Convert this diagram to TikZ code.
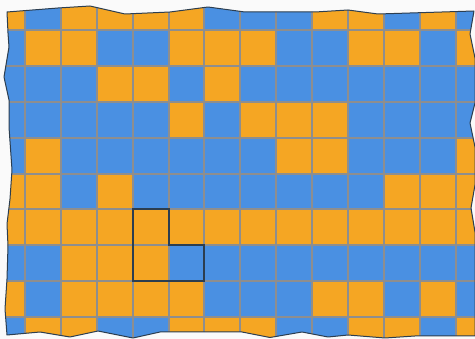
\documentclass[tikz,border=0pt]{standalone}
\usepackage{tikz}
\definecolor{naranja}{HTML}{F5A623}
\definecolor{azul}{HTML}{4A90E2}
\definecolor{rejilla}{HTML}{8E8E8E}
\definecolor{borde}{HTML}{2C3E50}
\definecolor{fondo}{HTML}{FAFAFA}
\colorlet{N}{naranja}
\colorlet{A}{azul}
\tikzset{
  lineagrid/.style={draw=rejilla,line width=2pt},
  contorno/.style={draw=borde,line width=1pt,line join=round},
  pieza/.style={draw=borde,line width=2pt,line join=miter},
}
\newcommand{\lado}{35.88}
\newcommand{\recorte}{(7,12) -- (58,8) -- (90,6) -- (125,14) -- (170,12) -- (208,7) -- (245,12) -- (315,12) -- (348,10) -- (378,14) -- (474,11)
  -- (470,34) -- (475,58) -- (475,103) -- (470,123) -- (475,147) -- (475,185) -- (471,208) -- (475,232) -- (475,336)
  -- (415,336) -- (385,338) -- (348,335) -- (328,337) -- (302,332) -- (270,337.5) -- (242,332) -- (160,332) -- (133,338) -- (98,331) -- (70,337) -- (40,332) -- (7,335)
  -- (5,309) -- (7,279) -- (8,246) -- (7,224) -- (10,199) -- (12,170) -- (9,127) -- (9,100) -- (4,77) -- (9,47) -- (8,33) -- cycle}

\begin{document}
\begin{tikzpicture}[x=1pt,y=-1pt]
\fill[fondo] (0,0) rectangle (475,339);
\useasboundingbox (0,0) rectangle (475,339);
% mosaico recortado por el borde irregular
\begin{scope}
\clip \recorte;
\foreach \fila [count=\r from 0] in {
  {N,A,N,N,N,N,A,A,A,N,N,A,N,A},
  {A,N,N,A,A,N,N,N,A,A,N,N,A,N},
  {A,A,A,N,N,A,N,A,A,A,A,A,A,A},
  {A,A,A,A,A,N,A,N,N,N,A,A,A,A},
  {A,N,A,A,A,A,A,A,N,N,A,A,A,N},
  {N,N,A,N,A,A,A,A,A,A,A,N,N,N},
  {N,N,N,N,N,N,N,N,N,N,N,N,N,N},
  {A,A,N,N,N,A,A,A,A,A,A,A,A,A},
  {N,A,N,N,N,N,A,A,A,N,N,A,N,A},
  {A,N,N,A,A,N,N,N,A,A,N,N,A,N}}
  \foreach \tono [count=\c from 0] in \fila
    \fill[\tono] ({25+(\c-1)*\lado},{30+(\r-1)*\lado}) rectangle ++(\lado,\lado);
\foreach \k in {0,...,12}
  \draw[lineagrid] ({25+\k*\lado},0) -- ({25+\k*\lado},339);
\foreach \k in {0,...,8}
  \draw[lineagrid] (0,{30+\k*\lado}) -- (475,{30+\k*\lado});
\end{scope}
\draw[contorno] \recorte;
% pieza en L
\draw[pieza] ({25+3*\lado},{30+5*\lado}) -- ++(\lado,0) -- ++(0,\lado) -- ++(\lado,0)
  -- ++(0,\lado) -- ++({-2*\lado},0) -- cycle;
\end{tikzpicture}
\end{document}
